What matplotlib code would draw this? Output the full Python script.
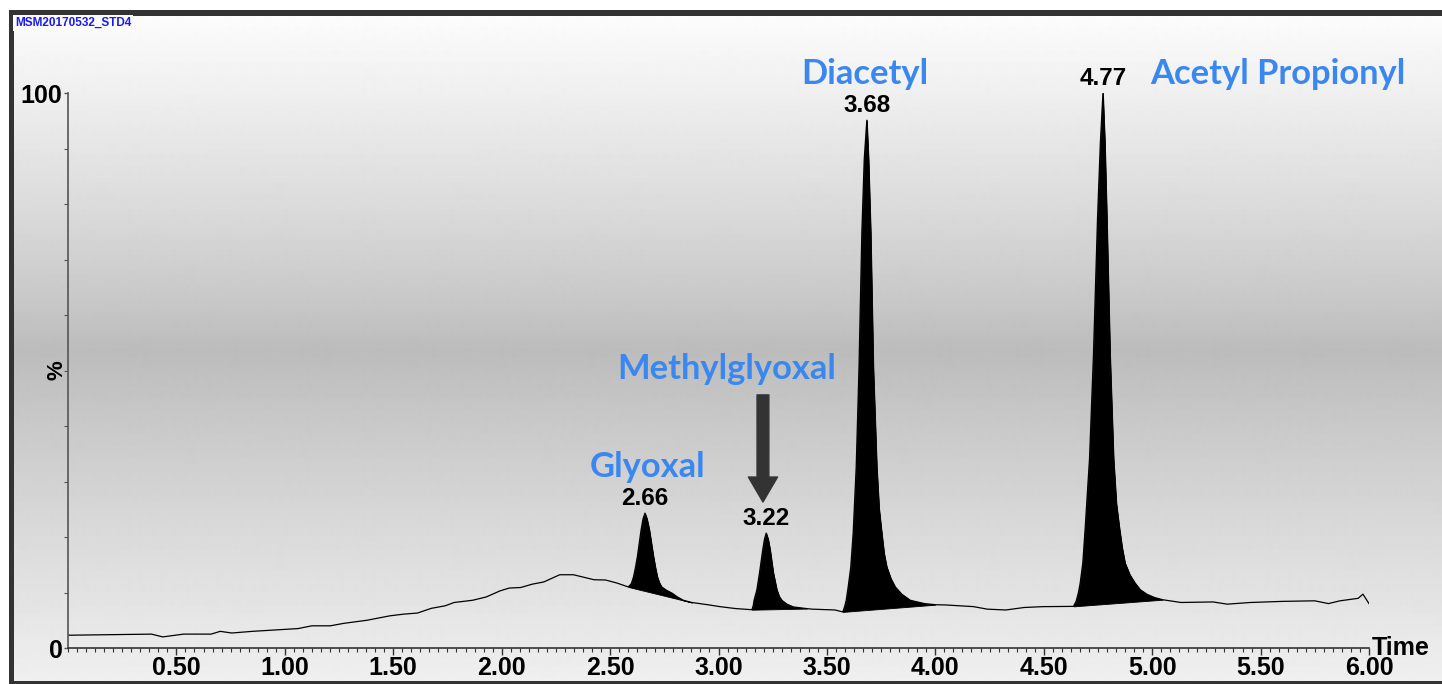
import numpy as np
import matplotlib
matplotlib.use("Agg")
import matplotlib.pyplot as plt
from matplotlib.patches import Rectangle
from matplotlib.ticker import MultipleLocator, FixedLocator, FuncFormatter

# chromatogram trace (time in min, intensity in %)
time = [0.00, 0.20, 0.385, 0.437, 0.533, 0.66, 0.702, 0.755, 0.85, 1.061,
        1.125, 1.21, 1.273, 1.379, 1.485, 1.548, 1.612, 1.676, 1.739, 1.781,
        1.866, 1.929, 1.993, 2.035, 2.088, 2.141, 2.194, 2.268, 2.331, 2.426,
        2.479, 2.532,
        # 2.66
        2.584, 2.598, 2.608, 2.617, 2.626, 2.643, 2.652, 2.661, 2.670, 2.681,
        2.700, 2.709, 2.718, 2.728, 2.738, 2.76, 2.785, 2.81, 2.838, 2.877,
        2.95, 3.007, 3.08,
        # 3.22
        3.154, 3.160, 3.164, 3.177, 3.189, 3.204, 3.212, 3.220, 3.229, 3.238,
        3.253, 3.269, 3.280, 3.292, 3.315, 3.345, 3.407,
        3.432, 3.50, 3.538,
        # 3.68
        3.573, 3.582, 3.589, 3.598, 3.610, 3.621, 3.635, 3.648, 3.661, 3.672,
        3.684, 3.692, 3.702, 3.714, 3.730, 3.741, 3.753, 3.764, 3.776, 3.795,
        3.815, 3.845, 3.884, 3.95, 4.00,
        4.05, 4.177, 4.239, 4.325, 4.41, 4.495,
        # 4.77
        4.637, 4.650, 4.660, 4.668, 4.680, 4.691, 4.711, 4.729, 4.748, 4.761,
        4.773, 4.782, 4.791, 4.806, 4.822, 4.835, 4.849, 4.862, 4.875, 4.897,
        4.921, 4.945, 4.975, 5.01, 5.048,
        5.133, 5.281, 5.346, 5.452, 5.60, 5.75, 5.813, 5.866, 5.95, 5.972, 6.00]
intensity = [2.3, 2.4, 2.5, 2.0, 2.5, 2.5, 3.0, 2.7, 3.0, 3.5,
             4.0, 4.0, 4.45, 5.0, 5.8, 6.1, 6.3, 7.15, 7.6, 8.2,
             8.6, 9.2, 10.3, 10.8, 10.9, 11.5, 11.9, 13.2, 13.2, 12.3,
             12.25, 11.7,
             11.0, 11.6, 12.8, 14.5, 16.5, 21.3, 23.3, 24.3, 23.3, 21.3,
             16.5, 14.5, 12.8, 11.7, 11.0, 10.4, 9.9, 9.2, 8.6, 8.2,
             7.8, 7.45, 7.1,
             6.9, 7.6, 8.6, 10.5, 13.5, 17.7, 19.6, 20.7, 19.6, 17.7,
             13.5, 10.5, 9.3, 8.6, 7.9, 7.4, 7.1,
             7.0, 6.9, 6.85,
             6.5, 7.5, 8.6, 11.0, 14.6, 20.7, 32.6, 50.6, 74.8, 88.0,
             95.1, 88.0, 74.8, 50.6, 32.6, 25.0, 20.7, 17.0, 14.6, 12.5,
             11.0, 9.7, 8.6, 8.0, 7.8,
             7.75, 7.45, 7.0, 6.85, 7.3, 7.45,
             7.5, 8.5, 10.0, 11.7, 15.3, 21.6, 34.1, 52.6, 77.5, 91.0,
             100.0, 91.0, 77.5, 52.6, 34.1, 26.0, 21.6, 18.0, 15.3, 13.2,
             11.7, 10.5, 9.7, 9.1, 8.7,
             8.2, 8.3, 7.9, 8.2, 8.4, 8.5, 8.0, 8.5, 8.95, 9.7, 8.0]

# integrated peaks: start / end times, retention time labels, compound names
peak_start = [2.584, 3.154, 3.573, 4.637]
peak_end = [2.877, 3.407, 4.00, 5.048]
peak_rt = ["2.66", "3.22", "3.68", "4.77"]
compounds = ["Glyoxal", "Methylglyoxal", "Diacetyl", "Acetyl Propionyl"]
name_pos = [(2.675, 32.6), (3.04, 50.3), (3.676, 103.4), (5.581, 103.4)]

title = "MSM20170532_STD4"
xticks = [0.5, 1.0, 1.5, 2.0, 2.5, 3.0, 3.5, 4.0, 4.5, 5.0, 5.5, 6.0]

time = np.array(time)
intensity = np.array(intensity)

W, H = 1442, 684
fig = plt.figure(figsize=(W / 100, H / 100), dpi=100)
fig.patch.set_facecolor("white")

# background gradient + frame
bg = fig.add_axes([0, 0, 1, 1])
bg.set_axis_off()
bg.set_xlim(0, W)
bg.set_ylim(H, 0)
sy = [14, 100, 200, 300, 350, 420, 520, 620, 684]
sv = [252, 238, 220, 200, 188, 200, 216, 230, 240]
rows = np.arange(14, H)
g = np.interp(rows, sy, sv) / 255.0
bg.imshow(np.repeat(g[:, None], 2, axis=1), cmap="gray", vmin=0, vmax=1,
          extent=[14, W, H, 14], aspect="auto", interpolation="bilinear")
fc = "#333333"
bg.add_patch(Rectangle((9, 10), W - 9, 6, color=fc, lw=0))
bg.add_patch(Rectangle((9, 10), 5, H - 10, color=fc, lw=0))
bg.add_patch(Rectangle((9, 681), W - 9, 3, color=fc, lw=0))
bg.text(15, 23, title, color="#1a1aee", fontsize=8.5, fontweight="bold",
        family="Liberation Sans", va="center", ha="left",
        bbox=dict(facecolor="#fbfbfb", edgecolor="none", pad=1.5))

ax = fig.add_axes([68 / W, 36 / H, 1301 / W, 555 / H])
ax.patch.set_alpha(0)
ax.set_xlim(0, 6.0)
ax.set_ylim(0, 100)
for s in ["top", "right"]:
    ax.spines[s].set_visible(False)
ax.spines["left"].set_color("#555555")
ax.spines["bottom"].set_color("#333333")
ax.spines["left"].set_linewidth(1.2)
ax.spines["bottom"].set_linewidth(1.2)

ax.plot(time, intensity, color="black", lw=0.9)
for t0, t1, lab in zip(peak_start, peak_end, peak_rt):
    m = (time >= t0) & (time <= t1)
    tt = time[m]
    yy = intensity[m]
    base = np.interp(tt, [tt[0], tt[-1]], [yy[0], yy[-1]])
    ax.fill_between(tt, base, yy, color="black", lw=0.6)
    k = np.argmax(yy)
    ax.annotate(lab, xy=(tt[k], yy[k]), xytext=(0, 2), textcoords="offset points",
                ha="center", va="bottom", fontsize=17.5, fontweight="bold",
                family="Liberation Sans", color="black", annotation_clip=False)

for name, (x, y) in zip(compounds, name_pos):
    ax.text(x, y, name, color="#3a87ef", fontsize=24.8, fontweight="bold",
            family="Lato", ha="center", va="center", clip_on=False)

ax.annotate("", xy=(3.205, 26.3), xytext=(3.205, 45.6),
            arrowprops=dict(width=8.5, headwidth=21, headlength=18,
                            color="#333333", shrink=0))

# ticks
ax.xaxis.set_major_locator(FixedLocator(xticks))
ax.xaxis.set_major_formatter(FuncFormatter(lambda v, p: "%.2f" % v))
ax.xaxis.set_minor_locator(MultipleLocator(0.5 / 12))
ax.tick_params(axis="x", which="major", length=5, width=1, color="#333333",
               labelsize=18, pad=1)
ax.tick_params(axis="x", which="minor", length=3, width=0.8, color="#333333")
ax.yaxis.set_major_locator(FixedLocator([0, 100]))
ax.yaxis.set_minor_locator(MultipleLocator(10))
ax.tick_params(axis="y", which="major", length=3, width=1, color="#555555",
               labelsize=18, pad=1)
ax.tick_params(axis="y", which="minor", length=3, width=0.8, color="#555555")
for lbl in ax.get_xticklabels() + ax.get_yticklabels():
    lbl.set_fontweight("bold")
    lbl.set_family("Liberation Sans")

ax.text(-0.0085, 0.5, "%", transform=ax.transAxes, rotation=90, ha="center",
        va="center", fontsize=16, fontweight="bold", family="Liberation Sans")
ax.text(1.002, 0.0, "Time", transform=ax.transAxes, ha="left", va="center",
        fontsize=18, fontweight="bold", family="Liberation Sans")

fig.savefig("out.png", dpi=100)
